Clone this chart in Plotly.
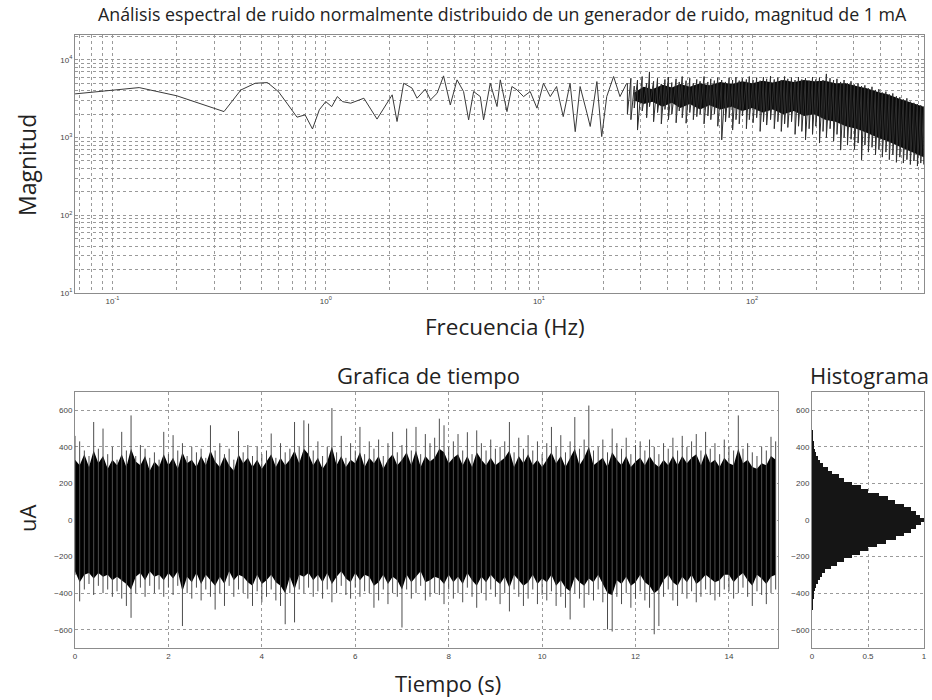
import math
import plotly.graph_objects as go

# ---------------- DATA ----------------
# Spectrum, low-frequency part (drawn as a single line)
spec_low_f = [0.0667, 0.1333, 0.2, 0.2667, 0.3333, 0.4, 0.4667, 0.5333, 0.6, 0.6667,
              0.7333, 0.8, 0.8667, 0.9333, 1.0, 1.0667, 1.1333, 1.2, 1.31, 1.51,
              1.74, 2.05, 2.16, 2.32, 2.54, 2.68, 2.93, 3.10, 3.33, 3.57,
              3.84, 4.13, 4.43, 4.68, 4.94, 5.31, 5.50, 5.91, 6.36, 6.59,
              7.08, 7.47, 7.89, 8.47, 9.10, 9.79, 10.5, 11.3, 12.1, 13.0,
              14.0, 14.8, 15.6, 16.8, 17.4, 18.7, 19.7, 20.8, 22.4, 24.0, 25.8]
spec_low_mag = [3650, 4400, 3450, 2630, 2160, 4100, 5000, 5100, 3900, 2630,
                1830, 1960, 1290, 2280, 2900, 2500, 3370, 2900, 2770, 3210,
                1730, 3550, 1610, 5000, 4330, 3210, 4200, 3060, 3720, 6220,
                2630, 5530, 3910, 1690, 3910, 3370, 1690, 5000, 2510, 5530,
                2160, 4540, 4110, 3370, 3910, 2390, 5000, 3370, 4540, 1860,
                5000, 1190, 4540, 2060, 1390, 5260, 1030, 3370, 6110, 3370, 5000]

# Spectrum, dense part: solid core envelope
spec_core_f = [28, 31, 34, 38, 42, 46, 51, 57, 63, 71, 80, 90, 100, 112, 125,
               140, 157, 175, 196, 220, 246, 275, 308, 345, 386, 432, 484, 540, 600, 638]
spec_core_hi = [3800, 4500, 4200, 4800, 4400, 4900, 4500, 5000, 4700, 5200, 4900, 5300, 5000, 5400, 5100,
                5500, 5200, 5500, 5300, 5400, 5000, 5000, 4600, 4300, 3900, 3600, 3200, 2900, 2700, 2500]
spec_core_lo = [3000, 2700, 2900, 2500, 2800, 2400, 2700, 2300, 2600, 2300, 2500, 2200, 2400, 2100, 2300,
                2000, 2200, 1900, 2000, 1700, 1600, 1400, 1300, 1150, 1000, 900, 780, 680, 600, 560]

# Spectrum, dense part: spike extremes
spec_spk_f = [26, 27, 28, 29, 30.5, 32, 33, 34.5, 36, 37.5, 39, 40.5, 42, 44, 45.5,
              47, 49, 51, 53, 55, 57, 59.5, 62, 64, 66.5, 69, 72, 75, 78, 81,
              84, 87, 90, 94, 97, 101, 105, 109, 113, 117, 122, 127, 132, 137, 142,
              147, 153, 159, 165, 171, 178, 185, 192, 199, 207, 215, 223, 232, 241, 250,
              260, 270, 280, 291, 302, 314, 326, 338, 351, 365, 379, 393, 408, 424, 440,
              457, 475, 493, 512, 532, 552, 574, 596, 618, 638]
spec_spk_hi = [5000, 5800, 4600, 5500, 6100, 5000, 7000, 5300, 5800, 4900, 5600, 6000, 5100, 5700, 5200,
               6100, 5400, 5800, 5000, 5600, 5300, 6100, 5200, 5700, 5400, 5900, 5500, 5200, 5900, 5500,
               6000, 5400, 5800, 5600, 6100, 5500, 5900, 5400, 6000, 5700, 6200, 5600, 5900, 5500, 6100,
               5700, 5900, 5500, 6000, 5600, 5800, 5400, 6000, 5600, 5900, 5500, 6600, 5800, 5500, 5700,
               5200, 5500, 5000, 5300, 4800, 5000, 4600, 4700, 4300, 4500, 4100, 4200, 3800, 3900, 3600,
               3700, 3400, 3300, 3100, 3200, 2900, 2800, 2700, 2600, 2500]
spec_spk_lo = [2000, 1700, 2400, 1250, 2200, 1800, 2500, 1600, 2100, 1500, 2300, 1700, 2000, 1550, 2200,
               1800, 1530, 2100, 1700, 1860, 2000, 1500, 1900, 1700, 2000, 1400, 935, 1600, 1800, 1250,
               1700, 1500, 1900, 1300, 1700, 1550, 1800, 1200, 1600, 1450, 1700, 1300, 1600, 1200, 1500,
               1350, 1600, 1100, 1400, 1200, 935, 1300, 1100, 1400, 850, 1200, 1000, 1300, 900, 1100,
               690, 1000, 800, 950, 700, 850, 517, 800, 650, 750, 600, 700, 560, 650, 520,
               600, 480, 560, 470, 520, 450, 500, 430, 470, 450]

# Time signal (uA): sample times (every 0.1 s), spike extremes and dense-core edges
time_t = [round(0.1 * i, 1) for i in range(151)]
time_hi = [460, 430, 380, 350, 536, 390, 500, 360, 400, 330,
           482, 380, 572, 350, 410, 390, 340, 370, 330, 482,
           360, 464, 380, 420, 350, 400, 370, 390, 340, 518,
           380, 420, 360, 390, 330, 486, 370, 410, 350, 400,
           360, 380, 473, 340, 420, 370, 390, 536, 400, 545,
           527, 380, 430, 350, 400, 612, 370, 460, 340, 420,
           380, 509, 360, 430, 390, 440, 350, 420, 482, 370,
           410, 500, 380, 509, 360, 470, 420, 450, 554, 518,
           400, 430, 470, 380, 480, 360, 490, 420, 380, 440,
           390, 400, 430, 536, 370, 450, 390, 464, 380, 430,
           360, 420, 509, 400, 464, 370, 430, 563, 390, 440,
           626, 380, 400, 440, 370, 500, 420, 390, 450, 360,
           410, 430, 380, 440, 400, 360, 420, 390, 450, 380,
           460, 400, 430, 470, 380, 482, 390, 420, 360, 440,
           400, 380, 572, 390, 420, 370, 350, 400, 380, 455, 430]
time_lo = [-300, -445, -380, -350, -410, -360, -400, -380, -420, -390,
           -430, -470, -535, -400, -370, -420, -360, -400, -380, -420,
           -370, -410, -360, -580, -400, -430, -370, -440, -380, -420,
           -490, -400, -470, -360, -420, -380, -400, -430, -470, -390,
           -450, -420, -380, -440, -470, -570, -400, -560, -380, -400,
           -370, -420, -390, -430, -380, -450, -400, -360, -410, -430,
           -370, -420, -390, -400, -480, -440, -380, -460, -400, -420,
           -588, -380, -430, -400, -360, -440, -420, -400, -410, -460,
           -380, -430, -400, -450, -370, -420, -480, -400, -440, -380,
           -420, -460, -400, -500, -380, -420, -470, -430, -380, -460,
           -410, -440, -390, -470, -420, -480, -544, -400, -430, -480,
           -410, -440, -380, -450, -598, -610, -420, -460, -400, -480,
           -430, -390, -440, -480, -625, -580, -420, -380, -440, -470,
           -400, -430, -390, -450, -420, -380, -410, -440, -420, -380,
           -390, -430, -400, -370, -420, -470, -390, -410, -460, -400, -380]
core_hi = [330, 300, 360, 290, 380, 310, 350, 280, 330, 300,
           360, 290, 390, 320, 300, 350, 270, 320, 290, 360,
           300, 340, 280, 370, 310, 330, 290, 350, 300, 380,
           320, 290, 350, 300, 270, 360, 310, 340, 290, 330,
           280, 320, 360, 290, 340, 300, 330, 380, 310, 390,
           360, 300, 340, 280, 320, 400, 300, 350, 290, 330,
           310, 370, 290, 340, 310, 350, 280, 330, 360, 300,
           330, 370, 300, 380, 290, 350, 320, 340, 390, 370,
           310, 340, 360, 300, 350, 290, 370, 330, 300, 340,
           300, 320, 340, 380, 290, 350, 310, 360, 300, 330,
           290, 330, 370, 310, 350, 290, 340, 390, 300, 340,
           400, 300, 320, 340, 290, 370, 330, 300, 350, 290,
           320, 340, 300, 350, 310, 290, 330, 300, 350, 300,
           350, 310, 340, 360, 300, 370, 310, 330, 290, 340,
           310, 300, 390, 310, 330, 290, 280, 310, 300, 350, 330]
core_lo = [-280, -340, -300, -290, -320, -290, -310, -300, -330, -310,
           -330, -350, -380, -310, -290, -330, -280, -310, -300, -330,
           -290, -320, -280, -390, -310, -340, -290, -350, -300, -330,
           -360, -310, -350, -280, -330, -300, -310, -340, -360, -300,
           -350, -330, -300, -340, -360, -400, -310, -380, -300, -310,
           -290, -330, -300, -340, -290, -350, -310, -280, -320, -340,
           -290, -330, -300, -310, -360, -340, -300, -350, -310, -330,
           -380, -300, -340, -310, -280, -340, -330, -310, -320, -350,
           -300, -340, -310, -350, -290, -330, -360, -310, -340, -300,
           -330, -350, -310, -370, -300, -330, -360, -340, -300, -350,
           -320, -340, -300, -360, -330, -370, -390, -310, -340, -360,
           -320, -340, -300, -350, -400, -410, -330, -350, -310, -360,
           -340, -300, -340, -360, -400, -380, -330, -300, -340, -360,
           -310, -340, -300, -350, -330, -300, -320, -340, -330, -300,
           -300, -340, -310, -290, -330, -360, -300, -320, -350, -310, -300]

# Histogram (normalised counts per 20 uA bin)
hist_centers = list(range(-480, 481, 20))
hist_values = [0.003, 0.005, 0.008, 0.013, 0.02, 0.028, 0.04, 0.052, 0.07, 0.09,
               0.12, 0.17, 0.22, 0.29, 0.36, 0.43, 0.50, 0.58, 0.66, 0.75,
               0.82, 0.88, 0.93, 0.97, 1.0, 0.96, 0.93, 0.88, 0.82, 0.74,
               0.68, 0.60, 0.50, 0.44, 0.36, 0.29, 0.24, 0.18, 0.14, 0.10,
               0.07, 0.05, 0.035, 0.025, 0.017, 0.011, 0.007, 0.004, 0.002]

title_text = "Análisis espectral de ruido normalmente distribuido de un generador de ruido, magnitud de 1 mA"

# ---------------- FIGURE ----------------
W, H = 932, 700
GRID = "#9a9a9a"
FRAME = "#8c8c8c"
TICKFONT = dict(family="Liberation Sans", size=8, color="#444")


def px_x(p):
    return p / W


def px_y(p):
    return 1 - p / H


fig = go.Figure()

# spectrum
fig.add_trace(go.Scatter(x=spec_low_f, y=spec_low_mag, mode="lines",
                         line=dict(color="#3a3a3a", width=1), xaxis="x", yaxis="y"))
fig.add_trace(go.Scatter(x=spec_core_f + spec_core_f[::-1], y=spec_core_hi + spec_core_lo[::-1],
                         mode="lines", fill="toself", fillcolor="#0a0a0a",
                         line=dict(width=0, color="#000"), xaxis="x", yaxis="y"))
sx, sy = [], []
for f, h, l in zip(spec_spk_f, spec_spk_hi, spec_spk_lo):
    sx += [f, f]
    sy += [h, l]
fig.add_trace(go.Scatter(x=sx, y=sy, mode="lines", line=dict(color="#2e2e2e", width=1),
                         xaxis="x", yaxis="y"))

# time signal: dense core
fig.add_trace(go.Scatter(x=time_t + time_t[::-1], y=core_hi + core_lo[::-1], mode="lines",
                         fill="toself", fillcolor="#000000", line=dict(width=0, color="#000"),
                         xaxis="x2", yaxis="y2"))
# time signal: spikes
tx, ty = [], []
for t, h, l in zip(time_t, time_hi, time_lo):
    tx += [t, t, None]
    ty += [h, l, None]
fig.add_trace(go.Scatter(x=tx, y=ty, mode="lines", line=dict(color="#4d4d4d", width=1),
                         connectgaps=False, xaxis="x2", yaxis="y2"))

# histogram
fig.add_trace(go.Bar(x=hist_values, y=hist_centers, orientation="h", width=20,
                     marker=dict(color="#151515", line=dict(width=0)),
                     xaxis="x3", yaxis="y3"))

common = dict(showline=True, mirror=True, linecolor=FRAME, linewidth=1,
              showgrid=True, gridcolor=GRID, griddash="dot", gridwidth=1,
              zeroline=False, ticks="", tickfont=TICKFONT, automargin=False)

fig.update_layout(
    width=W, height=H, margin=dict(l=0, r=0, t=0, b=0, autoexpand=False),
    paper_bgcolor="white", plot_bgcolor="white", showlegend=False, bargap=0,
    xaxis=dict(type="log", range=[math.log10(1 / 15), math.log10(640)],
               domain=[px_x(75), px_x(924)], anchor="y",
               tickvals=[0.1, 1, 10, 100],
               ticktext=["10<sup>-1</sup>", "10<sup>0</sup>", "10<sup>1</sup>", "10<sup>2</sup>"],
               minor=dict(showgrid=True, gridcolor=GRID, griddash="dot", dtick="D1"),
               **common),
    yaxis=dict(type="log", range=[1, 4.32], domain=[px_y(293), px_y(35)], anchor="x",
               tickvals=[10, 100, 1000, 10000],
               ticktext=["10<sup>1</sup>", "10<sup>2</sup>", "10<sup>3</sup>", "10<sup>4</sup>"],
               minor=dict(showgrid=True, gridcolor=GRID, griddash="dot", dtick="D1"),
               **common),
    xaxis2=dict(range=[0, 15.05], domain=[px_x(75), px_x(778)], anchor="y2",
                tickvals=[0, 2, 4, 6, 8, 10, 12, 14], **common),
    yaxis2=dict(range=[-700, 700], domain=[px_y(648), px_y(392)], anchor="x2",
                tickvals=[-600, -400, -200, 0, 200, 400, 600], **common),
    xaxis3=dict(range=[0, 1], domain=[px_x(812), px_x(924)], anchor="y3",
                tickvals=[0, 0.5, 1], **common),
    yaxis3=dict(range=[-700, 700], domain=[px_y(648), px_y(392)], anchor="x3",
                tickvals=[-600, -400, -200, 0, 200, 400, 600], **common),
)

TXT = dict(family="Open Sans", color="#222")
ann = [
    dict(text=title_text, x=px_x(502), y=px_y(14), size=17.8),
    dict(text="Magnitud", x=px_x(27), y=px_y(165), size=23, angle=-90),
    dict(text="Frecuencia (Hz)", x=px_x(505), y=px_y(327), size=22.5),
    dict(text="Grafica de tiempo", x=px_x(428), y=px_y(375), size=22),
    dict(text="Histograma", x=px_x(869), y=px_y(375), size=22),
    dict(text="uA", x=px_x(27), y=px_y(519), size=22, angle=-90),
    dict(text="Tiempo (s)", x=px_x(448), y=px_y(683), size=22),
]
for a in ann:
    fig.add_annotation(text=a["text"], x=a["x"], y=a["y"], xref="paper", yref="paper",
                       xanchor="center", yanchor="middle", showarrow=False,
                       textangle=a.get("angle", 0),
                       font=dict(size=a["size"], **TXT))

# remove the default 8px page margin so the 932x700 figure fills the window exactly
fig.write_html("out.html", config={"displayModeBar": False},
               post_script="document.body.style.margin='0';document.body.style.overflow='hidden';")
